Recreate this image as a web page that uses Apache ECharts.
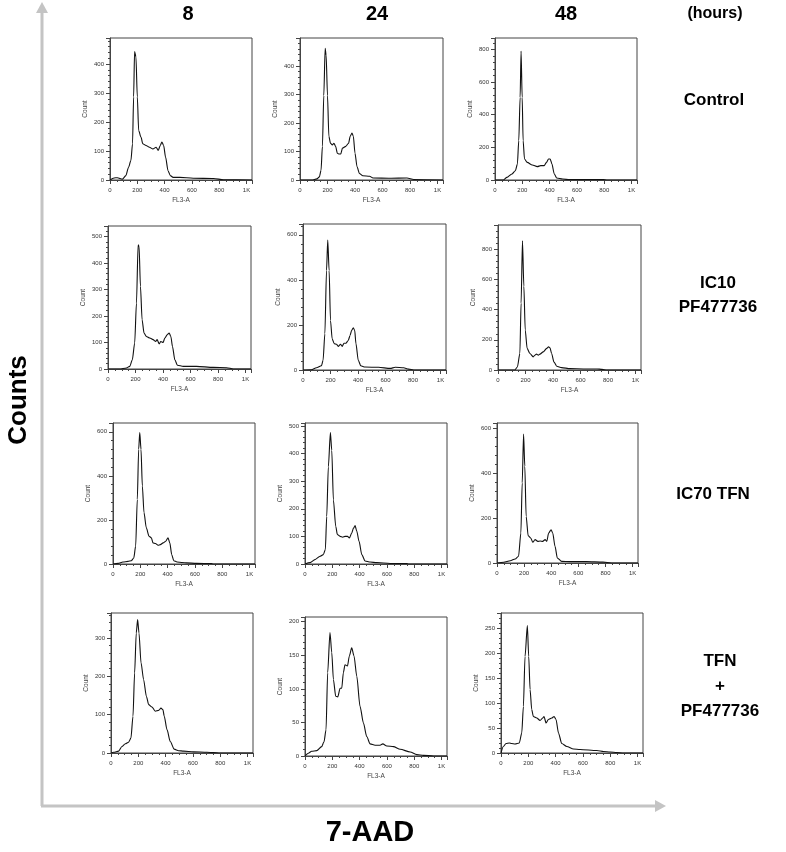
<!DOCTYPE html>
<html><head><meta charset="utf-8">
<script src="https://cdn.jsdelivr.net/npm/echarts@6/dist/echarts.min.js"></script>
<style>html,body{margin:0;padding:0;background:#fff}#c{width:786px;height:852px}</style>
</head><body><div id="c"></div>
<script>
// ---------- tick labels ----------
const xTickLabels = { 0: '0', 200: '200', 400: '400', 600: '600', 800: '800', 1000: '1K' };
const timeLabels = ['8', '24', '48'];
const rowLabels = [['Control'], ['IC10', 'PF477736'], ['IC70 TFN'], ['TFN', '+', 'PF477736']];

// ---------- data: FL3-A (x) and Count (y) ----------
// Control
const ctrl8X  = [0,30,54,91,116,136,153,165,173,180,190,200,210,227,240,264,289,314,338,353,368,380,393,407,425,442,462,511,610,758,832,1040];
const ctrl8Y  = [0,7,8,3,15,44,67,125,287,443,425,287,171,148,125,119,113,107,113,102,119,131,119,79,32,15,9,9,6,5,1,0];
const ctrl24X = [0,86,123,141,153,163,173,183,190,200,210,222,235,247,259,272,284,296,309,333,353,365,378,388,400,415,432,457,506,531,654,778,827,1040];
const ctrl24Y = [0,0,4,11,34,118,296,462,438,296,153,129,123,129,118,94,91,91,112,118,129,153,165,153,94,46,23,15,13,7,6,7,2,0];
const ctrl48X = [0,62,87,124,149,164,174,184,191,199,206,216,236,273,310,335,360,377,392,404,417,434,452,496,546,794,819,1040];
const ctrl48Y = [0,0,16,37,57,98,241,507,789,507,241,129,108,92,82,88,88,108,129,129,98,37,12,6,2,2,0,0];
// IC10 PF477736
const ic10_8X  = [0,85,134,158,177,194,207,219,226,236,248,262,279,304,328,347,357,372,384,401,413,430,445,457,469,486,505,547,644,765,863,911,1040];
const ic10_8Y  = [0,0,4,10,35,98,249,469,462,312,186,136,123,117,111,104,111,95,104,100,117,129,136,123,85,35,14,10,10,6,5,0,0];
const ic10_24X = [0,61,98,134,146,159,171,180,190,200,212,227,244,256,273,285,298,312,329,342,354,366,376,385,402,420,451,549,634,671,732,768,805,1040];
const ic10_24Y = [0,1,10,19,43,161,441,577,441,220,139,117,114,105,114,105,119,119,131,153,176,187,176,117,43,19,13,12,7,12,10,4,0,0];
const ic10_48X = [0,122,141,159,168,178,188,198,212,232,256,268,280,293,305,329,354,368,378,390,407,427,463,524,622,720,756,793,1040];
const ic10_48Y = [0,0,20,109,443,855,555,265,143,109,87,98,105,98,105,120,143,154,147,109,53,25,16,9,7,7,4,0,0];
// IC70 TFN
const ic70_8X  = [0,37,73,110,134,152,166,178,188,196,205,215,227,244,264,281,293,311,330,347,367,386,403,416,430,445,469,538,611,721,733,1040];
const ic70_8Y  = [0,3,9,12,15,27,81,293,521,597,521,354,233,164,126,119,96,93,85,88,96,103,119,96,43,15,9,5,3,2,0,0];
const ic70_24X = [0,37,73,110,134,149,159,171,186,196,208,225,237,257,276,293,311,325,342,355,367,379,396,416,440,477,526,623,746,758,1040];
const ic70_24Y = [0,5,16,28,34,52,172,352,476,412,232,137,107,100,97,100,100,94,112,130,139,119,82,34,11,7,5,2,2,0,0];
const ic70_48X = [0,49,98,134,159,176,186,196,205,215,230,249,264,281,301,318,337,355,367,381,399,411,428,445,477,538,660,782,844,1040];
const ic70_48Y = [0,3,10,18,30,133,356,573,430,207,121,111,92,104,96,98,96,104,96,133,148,133,74,22,7,6,6,4,0,0];
// TFN + PF477736
const combo8X  = [0,20,56,80,105,129,146,161,173,185,195,205,220,239,259,276,300,324,349,366,380,390,410,434,463,495,532,605,702,751,800,1040];
const combo8Y  = [0,2,5,17,24,28,39,96,209,313,348,313,235,191,148,126,120,109,111,117,113,96,61,30,10,6,5,3,2,1,0,0];
const combo24X = [0,24,49,86,122,139,154,166,183,196,208,225,240,257,269,281,293,311,325,342,359,379,403,428,452,477,513,550,570,599,648,697,770,819,868,941,1040];
const combo24Y = [0,4,7,8,14,21,39,124,184,154,114,89,88,101,101,124,136,134,149,161,149,119,74,49,29,18,16,16,18,15,14,10,6,2,1,0,0];
const combo48X = [0,17,37,61,78,103,134,152,164,176,193,203,213,225,237,262,286,306,315,330,347,372,389,403,421,445,482,531,579,702,751,800,848,897,1040];
const combo48Y = [0,13,19,20,19,18,20,40,93,193,255,193,127,87,73,70,65,70,73,60,67,70,73,67,40,19,13,8,7,5,3,2,1,0,0];

const panelX = [ctrl8X, ctrl24X, ctrl48X, ic10_8X, ic10_24X, ic10_48X, ic70_8X, ic70_24X, ic70_48X, combo8X, combo24X, combo48X];
const panelY = [ctrl8Y, ctrl24Y, ctrl48Y, ic10_8Y, ic10_24Y, ic10_48Y, ic70_8Y, ic70_24Y, ic70_48Y, combo8Y, combo24Y, combo48Y];
const yMax      = [490, 498, 870, 540, 648, 960, 640, 511, 622, 365, 207, 280];
const yInterval = [100, 100, 200, 100, 200, 200, 200, 100, 200, 100, 50, 50];

// ---------- layout (pixels) ----------
const boxes = [
  [110, 38, 142, 142], [300, 38, 143, 142], [495, 38, 142, 142],
  [108, 226, 143, 143], [303, 224, 143, 146], [498, 225, 143, 145],
  [113, 423, 142, 141], [305, 423, 142, 141], [497, 423, 141, 140],
  [111, 613, 142, 140], [305, 617, 142, 139], [501, 613, 142, 140]
];

const FONT = '"Liberation Sans", Arial, sans-serif';
const grids = [], xAxes = [], yAxes = [], series = [];
boxes.forEach((b, i) => {
  grids.push({ left: b[0], top: b[1], width: b[2], height: b[3], show: true, borderColor: '#444', borderWidth: 1, backgroundColor: 'transparent' });
  xAxes.push({
    type: 'value', gridIndex: i, min: 0, max: 1040, interval: 200,
    name: 'FL3-A', nameLocation: 'middle', nameGap: 17,
    nameTextStyle: { fontSize: 6.5, color: '#444', fontFamily: FONT },
    axisLine: { show: true, lineStyle: { color: '#444', width: 1 } },
    axisTick: { show: true, length: 4, lineStyle: { color: '#444' } },
    minorTick: { show: true, splitNumber: 4, length: 2, lineStyle: { color: '#444' } },
    splitLine: { show: false },
    axisLabel: { fontSize: 6, color: '#333', fontFamily: FONT, margin: 7, showMaxLabel: true,
      formatter: v => (xTickLabels[v] !== undefined ? xTickLabels[v] : '') }
  });
  const iv = yInterval[i];
  yAxes.push({
    type: 'value', gridIndex: i, min: 0, max: yMax[i], interval: iv,
    name: 'Count', nameLocation: 'middle', nameGap: 21, nameRotate: 90,
    nameTextStyle: { fontSize: 6.5, color: '#444', fontFamily: FONT },
    axisLine: { show: true, lineStyle: { color: '#444', width: 1 } },
    axisTick: { show: true, length: 4, lineStyle: { color: '#444' } },
    minorTick: { show: true, splitNumber: 5, length: 2, lineStyle: { color: '#444' } },
    splitLine: { show: false },
    axisLabel: { fontSize: 6, color: '#333', fontFamily: FONT, margin: 6,
      formatter: v => (v % iv === 0 ? String(v) : '') }
  });
  series.push({
    type: 'line', xAxisIndex: i, yAxisIndex: i, showSymbol: false, silent: true,
    smooth: 0.25, smoothMonotone: 'x',
    lineStyle: { color: '#111', width: 1.1 },
    data: panelX[i].map((x, k) => [x, panelY[i][k]])
  });
});

// ---------- annotations ----------
const graphic = [];
const colCenters = [188, 377, 566];
timeLabels.forEach((t, k) => graphic.push({ type: 'text', style: { text: t, x: colCenters[k], y: 14, align: 'center', verticalAlign: 'middle', font: 'bold 20px ' + FONT, fill: '#000' } }));
graphic.push({ type: 'text', style: { text: '(hours)', x: 715, y: 14, align: 'center', verticalAlign: 'middle', font: 'bold 16px ' + FONT, fill: '#000' } });
const rowY = [[100], [283, 307], [494], [661, 686, 711]];
const rowX = [714, 718, 713, 720];
rowLabels.forEach((lines, r) => lines.forEach((txt, j) => graphic.push({ type: 'text', style: { text: txt, x: rowX[r], y: rowY[r][j], align: 'center', verticalAlign: 'middle', font: 'bold 17px ' + FONT, fill: '#000' } })));
graphic.push({ type: 'text', rotation: Math.PI / 2, x: 19, y: 400, style: { text: 'Counts', x: 0, y: 0, align: 'center', verticalAlign: 'middle', font: 'bold 26px ' + FONT, fill: '#000' } });
graphic.push({ type: 'text', style: { text: '7-AAD', x: 370, y: 833, align: 'center', verticalAlign: 'middle', font: 'bold 29px ' + FONT, fill: '#000' } });
// big axis arrows
graphic.push({ type: 'line', shape: { x1: 42, y1: 10, x2: 42, y2: 806 }, style: { stroke: '#c4c4c4', lineWidth: 3 } });
graphic.push({ type: 'polygon', shape: { points: [[36, 13], [48, 13], [42, 2]] }, style: { fill: '#c4c4c4' } });
graphic.push({ type: 'line', shape: { x1: 41, y1: 806, x2: 656, y2: 806 }, style: { stroke: '#c4c4c4', lineWidth: 3 } });
graphic.push({ type: 'polygon', shape: { points: [[655, 800], [655, 812], [666, 806]] }, style: { fill: '#c4c4c4' } });

const chart = echarts.init(document.getElementById('c'), null, { renderer: 'canvas' });
chart.setOption({ animation: false, backgroundColor: '#fff', grid: grids, xAxis: xAxes, yAxis: yAxes, series: series, graphic: graphic });
</script></body></html>
